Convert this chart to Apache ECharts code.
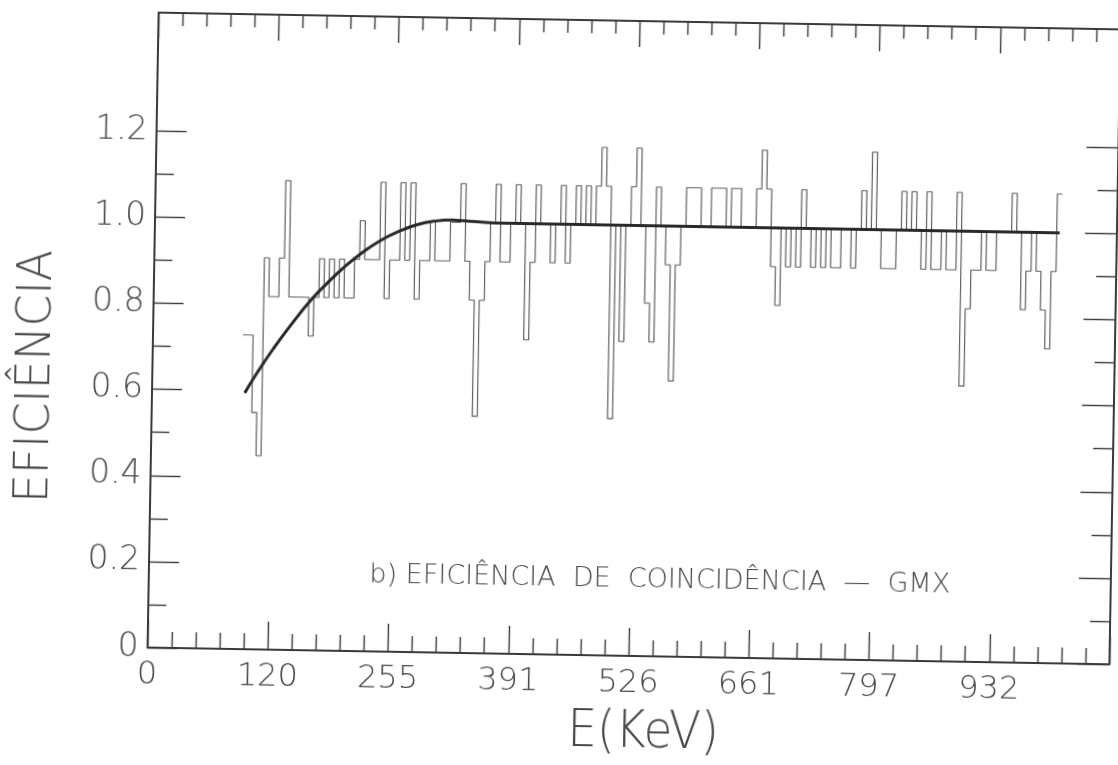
<!DOCTYPE html>
<html>
<head>
<meta charset="utf-8">
<title>Eficiência de coincidência — GMX</title>
<script src="https://cdn.jsdelivr.net/npm/echarts@6/dist/echarts.min.js"></script>
<style>
  html, body { margin: 0; padding: 0; background: #ffffff; overflow: hidden; }
  /* the plotted sheet sits slightly skewed on the page */
  #chart { width: 1118px; height: 765px; transform: rotate(1deg); transform-origin: 636px 339px; }
</style>
</head>
<body>
<div id="chart"></div>
<script>
// ---- axis annotation ----
const X_TICK_LABELS = ['0', '120', '255', '391', '526', '661', '797', '932', ''];
const Y_TICK_VALUES = [0, 0.2, 0.4, 0.6, 0.8, 1.0, 1.2];
const Y_TICK_LABELS = ['0', '0.2', '0.4', '0.6', '0.8', '1.0', '1.2'];
const Y_MINOR_VALUES = [0.1, 0.3, 0.5, 0.7, 0.9, 1.1];
const Y_MAX = 1.475;

// energy of the first labelled tick and spacing between labelled ticks (keV)
const E_FIRST_TICK = 120;
const E_TICK_STEP = 135.5;

// ---- measured coincidence efficiency, one value per energy bin ----
const HIST_START_KEV = 86.0;
const HIST_BIN_KEV = 5.646;
const EFF_BINS = [
  0.73, 0.73, 0.55, 0.45, 0.91, 0.82, 0.82, 0.91, 1.09, 0.82,
  0.82, 0.82, 0.82, 0.73, 0.82, 0.91, 0.82, 0.91, 0.82, 0.91,
  0.82, 0.82, 0.91, 1.00, 0.91, 0.91, 0.91, 1.09, 0.82, 0.91,
  0.91, 1.09, 0.91, 1.09, 0.82, 0.91, 0.91, 1.00, 0.91, 0.91,
  0.91, 1.00, 1.00, 1.09, 0.91, 0.82, 0.55, 0.82, 0.91, 1.00,
  1.09, 0.91, 0.91, 1.00, 1.09, 1.00, 0.73, 0.91, 1.09, 1.00,
  1.00, 0.91, 1.00, 1.09, 0.91, 1.00, 1.09, 1.00, 1.09, 1.00,
  1.09, 1.18, 1.09, 0.55, 1.00, 0.73, 1.00, 1.09, 1.18, 1.00,
  0.82, 0.73, 1.09, 1.00, 0.91, 0.64, 0.91, 1.00, 1.09, 1.09,
  1.09, 1.00, 1.00, 1.09, 1.09, 1.09, 1.00, 1.09, 1.09, 1.00,
  1.00, 1.00, 1.09, 1.18, 1.09, 0.91, 0.82, 1.00, 0.91, 1.00,
  0.91, 1.09, 1.00, 0.91, 1.00, 0.91, 1.00, 0.91, 0.91, 1.00,
  1.00, 0.91, 1.00, 1.09, 1.00, 1.18, 1.00, 0.91, 0.91, 0.91,
  1.00, 1.09, 1.00, 1.09, 1.00, 0.91, 1.09, 0.91, 0.91, 1.00,
  0.91, 0.91, 1.09, 0.64, 0.82, 0.91, 0.91, 1.00, 0.91, 0.91,
  1.00, 1.00, 1.00, 1.09, 1.00, 0.82, 0.91, 1.00, 0.91, 0.82,
  0.73, 0.91, 1.09
];

// ---- fitted efficiency curve ----
const FIT_KEV = [89, 103, 120, 140, 162, 180, 200, 220, 240, 260, 280, 300, 320, 340, 380, 500, 700, 900, 1004];
const FIT_EFF = [0.595, 0.644, 0.698, 0.756, 0.814, 0.854, 0.894, 0.928, 0.956, 0.977, 0.993, 1.002, 1.005, 1.003, 1.0, 1.0, 1.0, 1.0, 1.0];

// position on the x axis (tick index units) for a given energy
function axisPos(keV) {
  return 1 + (keV - E_FIRST_TICK) / E_TICK_STEP;
}

// step outline: left edge of every bin, then the closing right edge
const histPoints = EFF_BINS.map((v, i) => [axisPos(HIST_START_KEV + i * HIST_BIN_KEV), v]);
histPoints.push([axisPos(HIST_START_KEV + EFF_BINS.length * HIST_BIN_KEV), EFF_BINS[EFF_BINS.length - 1]]);

const fitPoints = FIT_KEV.map((e, i) => [axisPos(e), FIT_EFF[i]]);

const INK = '#3a3a3a';
const TEXT = '#4a4a4a';
const FONT = 'DejaVu Sans';

const frameLine = { show: true, onZero: false, lineStyle: { color: INK, width: 2 } };
const noLine = { show: false, onZero: false };
const tickStyle = { color: INK, width: 1.4 };

const chart = echarts.init(document.getElementById('chart'));

chart.setOption({
  animation: false,
  backgroundColor: '#ffffff',
  grid: { left: 153, right: 3, top: 21, bottom: 109, outerBoundsMode: 'none' },
  xAxis: [
    {
      type: 'value', position: 'bottom', min: 0, max: 8, interval: 1,
      axisLine: frameLine,
      axisTick: { inside: true, length: 28, lineStyle: tickStyle },
      minorTick: { show: true, splitNumber: 5, length: 16, lineStyle: tickStyle },
      axisLabel: {
        margin: 12, fontSize: 32, fontFamily: FONT, fontWeight: 200, color: TEXT,
        formatter: v => X_TICK_LABELS[Math.round(v)] || ''
      },
      splitLine: { show: false }
    },
    {
      type: 'value', position: 'top', min: 0, max: 8, interval: 1,
      axisLine: frameLine,
      axisTick: { inside: true, length: 26, lineStyle: tickStyle },
      minorTick: { show: true, splitNumber: 5, length: 13, lineStyle: tickStyle },
      axisLabel: { show: false },
      splitLine: { show: false }
    }
  ],
  yAxis: [
    {
      type: 'value', position: 'left', min: 0, max: Y_MAX,
      axisLine: frameLine,
      axisTick: { inside: true, length: 30, lineStyle: tickStyle, customValues: Y_TICK_VALUES },
      axisLabel: {
        customValues: Y_TICK_VALUES, margin: 9, fontSize: 33, fontFamily: FONT, fontWeight: 200, color: TEXT,
        formatter: v => Y_TICK_LABELS[Math.round(v / 0.2)]
      },
      splitLine: { show: false }
    },
    {
      type: 'value', position: 'left', min: 0, max: Y_MAX,
      axisLine: noLine,
      axisTick: { inside: true, length: 18, lineStyle: tickStyle, customValues: Y_MINOR_VALUES },
      axisLabel: { show: false },
      splitLine: { show: false }
    },
    {
      type: 'value', position: 'right', min: 0, max: Y_MAX,
      axisLine: frameLine,
      axisTick: { inside: true, length: 32, lineStyle: tickStyle, customValues: Y_TICK_VALUES },
      axisLabel: { show: false },
      splitLine: { show: false }
    },
    {
      type: 'value', position: 'right', min: 0, max: Y_MAX,
      axisLine: noLine,
      axisTick: { inside: true, length: 20, lineStyle: tickStyle, customValues: Y_MINOR_VALUES },
      axisLabel: { show: false },
      splitLine: { show: false }
    }
  ],
  series: [
    {
      name: 'medida', type: 'line', step: 'end', data: histPoints,
      xAxisIndex: 0, yAxisIndex: 0,
      showSymbol: false, symbol: 'none',
      lineStyle: { color: '#606060', width: 1.2 },
      z: 2
    },
    {
      name: 'ajuste', type: 'line', data: fitPoints,
      xAxisIndex: 0, yAxisIndex: 0,
      smooth: 0.5,
      showSymbol: false, symbol: 'none',
      lineStyle: { color: '#2a2a2a', width: 3 },
      z: 3
    }
  ],
  graphic: [
    {
      type: 'text', x: 38, y: 387, rotation: Math.PI / 2, scaleX: 0.95,
      style: {
        text: 'EFICIÊNCIA', fontSize: 48, fontFamily: FONT, fontWeight: 200,
        fill: TEXT, align: 'center', verticalAlign: 'middle'
      }
    },
    {
      type: 'text', x: 650, y: 733, scaleX: 0.9,
      style: {
        text: 'E(KeV)', fontSize: 52, fontFamily: FONT, fontWeight: 200,
        fill: TEXT, align: 'center', verticalAlign: 'middle'
      }
    },
    {
      type: 'text', x: 664, y: 580,
      style: {
        text: 'b) EFICIÊNCIA  DE  COINCIDÊNCIA  —  GMX', fontSize: 27, fontFamily: FONT, fontWeight: 200,
        fill: TEXT, align: 'center', verticalAlign: 'middle'
      }
    }
  ]
});
</script>
</body>
</html>
